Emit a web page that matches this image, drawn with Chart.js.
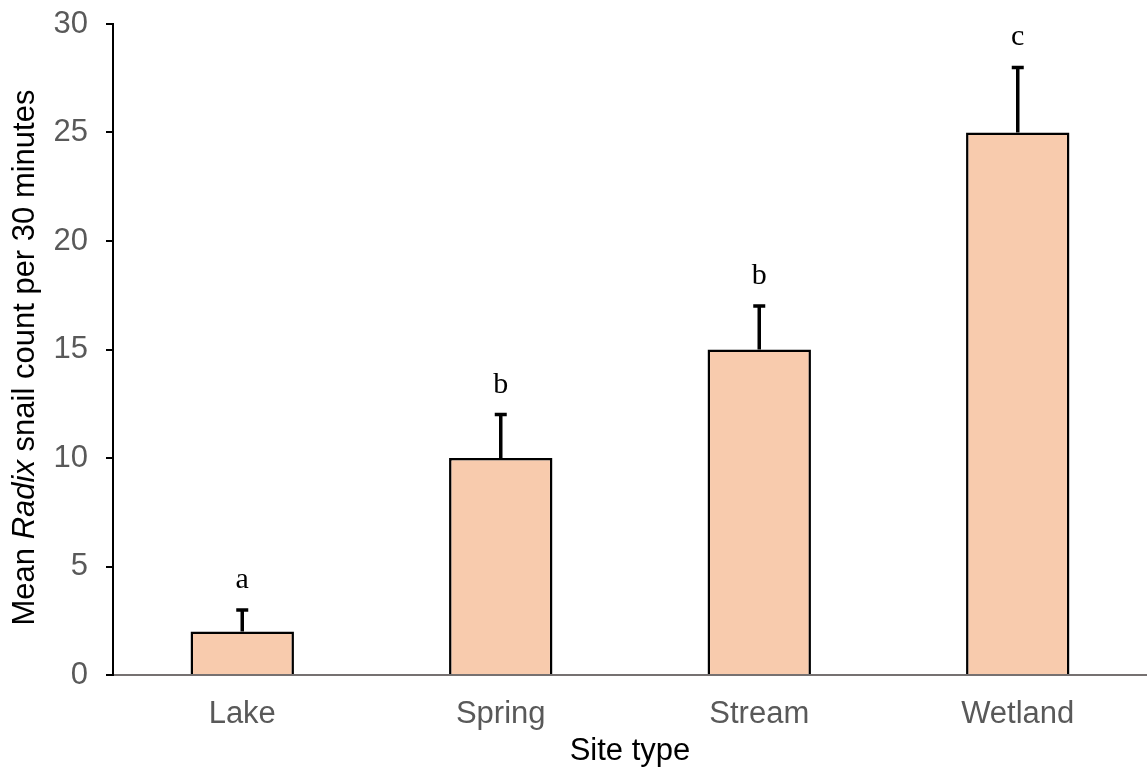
<!DOCTYPE html>
<html lang="en">
<head>
    <meta charset="UTF-8">
    <title>Radix snail count by site type</title>
    <style>
        body { margin: 0; background: #fff; }
        #chart { display: block; }
    </style>
</head>
<body>
    <canvas id="chart" width="1147" height="773"></canvas>
    <script src="https://cdn.jsdelivr.net/npm/chart.js"></script>
    <script>
        const siteTypes = ['Lake', 'Spring', 'Stream', 'Wetland'];
        const meanCounts = [2, 10, 15, 25];
        const errorUp = [1, 2, 2, 3];
        const groupLetters = ['a', 'b', 'b', 'c'];
        const yTicks = [0, 5, 10, 15, 20, 25, 30];

        const sans = '"Liberation Sans", Arial, sans-serif';

        // error bars and significance letters
        const errorBarPlugin = {
            id: 'errorBars',
            afterDatasetsDraw(chart) {
                const ctx = chart.ctx;
                const x = chart.scales.x, y = chart.scales.y;
                ctx.save();
                ctx.strokeStyle = '#000';
                ctx.lineWidth = 3.5;
                meanCounts.forEach((v, i) => {
                    const cx = x.getPixelForValue(i);
                    const y0 = y.getPixelForValue(v);
                    const y1 = y.getPixelForValue(v + errorUp[i]);
                    ctx.beginPath();
                    ctx.moveTo(cx, y0);
                    ctx.lineTo(cx, y1);
                    ctx.moveTo(cx - 6, y1);
                    ctx.lineTo(cx + 6, y1);
                    ctx.stroke();
                    ctx.fillStyle = '#000';
                    ctx.font = '30px "Liberation Serif", "Times New Roman", serif';
                    ctx.textAlign = 'center';
                    ctx.textBaseline = 'alphabetic';
                    ctx.fillText(groupLetters[i], cx, y1 - 22);
                });
                ctx.restore();
            }
        };

        // y title with italic genus name
        const yTitlePlugin = {
            id: 'yTitle',
            afterDraw(chart) {
                const ctx = chart.ctx;
                const area = chart.chartArea;
                const parts = [
                    ['Mean ', 'normal'],
                    ['Radix', 'italic'],
                    [' snail count per 30 minutes', 'normal']
                ];
                ctx.save();
                let total = 0;
                parts.forEach(p => {
                    ctx.font = p[1] + ' 31px ' + sans;
                    total += ctx.measureText(p[0]).width;
                });
                ctx.translate(25, (area.top + area.bottom) / 2 + 8);
                ctx.rotate(-Math.PI / 2);
                ctx.fillStyle = '#000';
                ctx.textBaseline = 'middle';
                let pos = -total / 2;
                parts.forEach(p => {
                    ctx.font = p[1] + ' 31px ' + sans;
                    ctx.fillText(p[0], pos, 0);
                    pos += ctx.measureText(p[0]).width;
                });
                ctx.restore();
            }
        };

        new Chart(document.getElementById('chart').getContext('2d'), {
            type: 'bar',
            data: {
                labels: siteTypes,
                datasets: [{
                    data: meanCounts,
                    backgroundColor: '#F8CBAD',
                    borderColor: '#000',
                    borderWidth: 2.5,
                    borderSkipped: 'bottom',
                    categoryPercentage: 1,
                    barPercentage: 0.4
                }]
            },
            options: {
                responsive: false,
                animation: false,
                devicePixelRatio: 1,
                layout: { padding: { top: 24, right: 0, left: 0, bottom: 0 } },
                plugins: {
                    legend: { display: false },
                    tooltip: { enabled: false }
                },
                scales: {
                    x: {
                        afterFit(scale) { scale.height = 98; },
                        grid: { display: true, drawOnChartArea: false, drawTicks: false },
                        border: { color: '#767171', width: 2 },
                        ticks: {
                            color: '#595959',
                            padding: 21,
                            font: { family: sans, size: 31 }
                        },
                        title: {
                            display: true,
                            text: 'Site type',
                            color: '#000',
                            padding: { top: 2, bottom: 3 },
                            font: { family: sans, size: 31 }
                        }
                    },
                    y: {
                        min: 0,
                        max: 30,
                        afterBuildTicks(scale) {
                            scale.ticks = yTicks.map(v => ({ value: v }));
                        },
                        afterFit(scale) {
                            scale.width = 113;
                            scale.paddingTop = 0;
                        },
                        grid: { display: true, drawOnChartArea: false, drawTicks: true, tickLength: 7, color: '#000', lineWidth: 2 },
                        border: { color: '#000', width: 2 },
                        ticks: {
                            color: '#595959',
                            padding: 18,
                            font: { family: sans, size: 31 }
                        }
                    }
                }
            },
            plugins: [errorBarPlugin, yTitlePlugin]
        });
    </script>
</body>
</html>
